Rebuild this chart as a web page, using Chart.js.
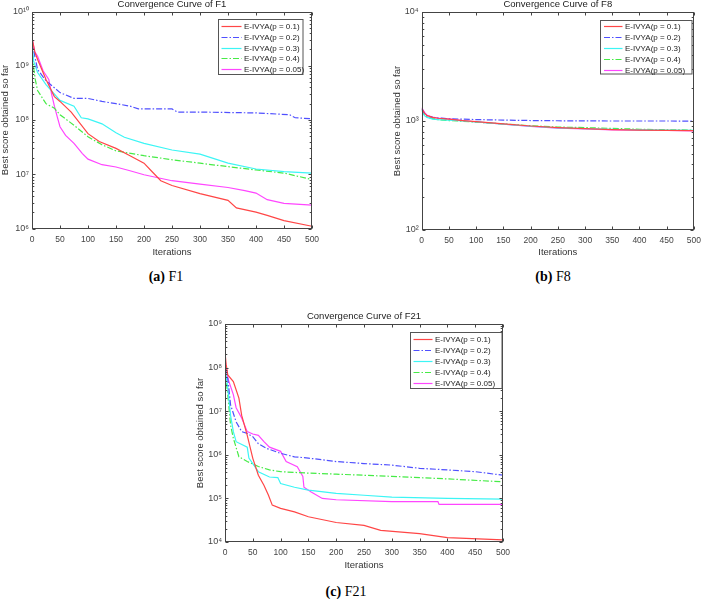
<!DOCTYPE html>
<html>
<head>
<meta charset="utf-8">
<script src="https://cdn.jsdelivr.net/npm/chart.js"></script>
<style>
  body { margin: 0; background: #fff; width: 707px; height: 599px; position: relative; overflow: hidden; }
  canvas { position: absolute; }
  .cap { position: absolute; font-family: "Liberation Serif", "Times New Roman", serif; font-size: 14px; line-height: 16px; color: #000; transform: translateX(-50%); white-space: nowrap; }
</style>
</head>
<body>
<canvas id="cF1" width="353" height="262" style="left:0px;top:0px"></canvas>
<canvas id="cF8" width="317" height="262" style="left:390px;top:0px"></canvas>
<canvas id="cF21" width="353" height="262" style="left:193px;top:312px"></canvas>
<div class="cap" style="left:166px;top:269px"><b>(a)</b> F1</div>
<div class="cap" style="left:553px;top:269px"><b>(b)</b> F8</div>
<div class="cap" style="left:346px;top:584px"><b>(c)</b> F21</div>

<script>
    const seriesNames = ['E-IVYA(p = 0.1)', 'E-IVYA(p = 0.2)', 'E-IVYA(p = 0.3)', 'E-IVYA(p = 0.4)', 'E-IVYA(p = 0.05)'];
    const xTicks = [0, 50, 100, 150, 200, 250, 300, 350, 400, 450, 500];

    // F1
    const f1Ticks = [1e6, 1e7, 1e8, 1e9, 1e10];
    const f1ItP01 = [0, 5, 10, 25, 40, 50, 70, 100, 120, 150, 175, 200, 215, 230, 250, 300, 350, 365, 400, 420, 450, 500];
    const f1P01 = [3.3e9, 1.8e9, 1.3e9, 5.6e8, 2.7e8, 2.2e8, 1.4e8, 5.6e7, 4e7, 3e7, 2.2e7, 1.6e7, 1.1e7, 7.6e6, 6.2e6, 4.4e6, 3.3e6, 2.4e6, 2e6, 1.75e6, 1.4e6, 1.1e6];
    const f1ItP02 = [0, 5, 10, 25, 50, 75, 100, 125, 150, 175, 190, 250, 260, 300, 400, 460, 470, 500];
    const f1P02 = [3e9, 1.5e9, 8.5e8, 5.3e8, 3.2e8, 2.5e8, 2.5e8, 2.2e8, 2e8, 1.8e8, 1.6e8, 1.6e8, 1.4e8, 1.4e8, 1.35e8, 1.25e8, 1.1e8, 1.05e8];
    const f1ItP03 = [0, 3, 10, 25, 50, 75, 88, 100, 125, 150, 165, 200, 250, 300, 350, 400, 450, 500];
    const f1P03 = [2.5e9, 1.2e9, 7.5e8, 4.5e8, 2.3e8, 1.8e8, 1.1e8, 1.05e8, 8.5e7, 5.8e7, 4.8e7, 3.7e7, 2.8e7, 2.35e7, 1.6e7, 1.25e7, 1.12e7, 1.05e7];
    const f1ItP04 = [0, 3, 6, 10, 25, 40, 50, 75, 100, 125, 150, 200, 250, 300, 350, 400, 450, 500];
    const f1P04 = [2.5e9, 9e8, 5.5e8, 3.5e8, 2e8, 1.65e8, 1.25e8, 8e7, 4.9e7, 3.5e7, 2.7e7, 2.2e7, 1.85e7, 1.6e7, 1.38e7, 1.2e7, 1.05e7, 8e6];
    const f1ItP005 = [0, 5, 10, 20, 30, 35, 40, 45, 50, 60, 75, 90, 100, 125, 150, 175, 200, 250, 300, 350, 380, 400, 420, 450, 500];
    const f1P005 = [3.2e9, 1.8e9, 1.5e9, 8e8, 5.6e8, 3e8, 1.8e8, 1.15e8, 7.5e7, 5.2e7, 3.7e7, 2.4e7, 1.9e7, 1.5e7, 1.36e7, 1.16e7, 9.8e6, 7.6e6, 6.6e6, 5.7e6, 5e6, 4.5e6, 3.4e6, 2.9e6, 2.7e6];

    // F8
    const f8Ticks = [1e2, 1e3, 1e4];
    const f8It = [0, 5, 10, 20, 30, 50, 75, 100, 150, 200, 250, 300, 350, 400, 450, 500];
    const f8P01 = [1300, 1180, 1120, 1080, 1060, 1040, 1010, 985, 940, 900, 870, 850, 835, 825, 820, 815];
    const f8P02 = [1300, 1180, 1120, 1080, 1065, 1050, 1040, 1030, 1020, 1010, 1005, 1002, 1000, 1000, 1000, 998];
    const f8P03 = [1250, 1120, 1080, 1040, 1030, 1020, 1000, 980, 935, 895, 865, 850, 840, 830, 825, 820];
    const f8P04 = [1270, 1140, 1090, 1050, 1030, 1010, 995, 975, 940, 905, 880, 870, 855, 840, 832, 825];
    const f8P005 = [1330, 1200, 1130, 1085, 1065, 1045, 1010, 980, 935, 890, 860, 845, 830, 825, 818, 812];

    // F21
    const f21Ticks = [1e4, 1e5, 1e6, 1e7, 1e8, 1e9];
    const f21ItP01 = [0, 2, 5, 15, 25, 30, 40, 50, 60, 70, 78, 85, 100, 125, 150, 200, 250, 280, 350, 400, 500];
    const f21P01 = [2.3e8, 1.2e8, 6.8e7, 4.8e7, 2e7, 8e6, 2.8e6, 8.3e5, 3.4e5, 2e5, 1.2e5, 7e4, 5.9e4, 4.9e4, 3.8e4, 2.8e4, 2.4e4, 1.85e4, 1.55e4, 1.26e4, 1.12e4];
    const f21ItP02 = [0, 5, 10, 20, 30, 40, 50, 60, 75, 100, 125, 150, 200, 250, 300, 350, 400, 450, 500];
    const f21P02 = [1.1e8, 5.7e7, 1.4e7, 5.7e6, 3.4e6, 3.1e6, 2.6e6, 1.8e6, 1.4e6, 1.08e6, 9e5, 8.4e5, 7e5, 6.3e5, 5.8e5, 4.9e5, 4.5e5, 4.1e5, 3.4e5];
    const f21ItP03 = [0, 5, 10, 15, 20, 40, 43, 60, 80, 95, 100, 125, 150, 200, 250, 300, 400, 500];
    const f21P03 = [1e8, 3.4e7, 8e6, 3.4e6, 2e6, 1.5e6, 8.4e5, 4.1e5, 3.1e5, 3e5, 2.2e5, 1.8e5, 1.55e5, 1.3e5, 1.18e5, 1.07e5, 1e5, 9.6e4];
    const f21ItP04 = [0, 5, 10, 15, 25, 40, 60, 80, 100, 150, 200, 300, 400, 500];
    const f21P04 = [8e7, 2.4e7, 4.8e6, 2.4e6, 9e5, 7e5, 5.4e5, 4.5e5, 4.1e5, 3.8e5, 3.6e5, 3.2e5, 2.8e5, 2.4e5];
    const f21ItP005 = [0, 5, 15, 20, 30, 40, 50, 60, 70, 80, 100, 110, 130, 140, 142, 155, 175, 200, 300, 383, 385, 500];
    const f21P005 = [1.5e8, 5.7e7, 2.4e7, 1.2e7, 7e6, 3.4e6, 3e6, 2.8e6, 2e6, 1.5e6, 1.2e6, 7e5, 5.3e5, 3.2e5, 1.8e5, 1.4e5, 1e5, 9.3e4, 8.4e4, 8.4e4, 7.3e4, 7.3e4];

    const FONT = '"Liberation Sans", Arial, Helvetica, sans-serif';
    Chart.defaults.font.family = FONT;

    const lineStyles = [
        { color: 'rgb(255,70,70)', dash: [] },
        { color: 'rgb(80,80,255)', dash: [6, 2, 1.5, 2] },
        { color: 'rgb(60,245,245)', dash: [] },
        { color: 'rgb(70,235,70)', dash: [6, 2, 1.5, 2] },
        { color: 'rgb(255,70,255)', dash: [] }
    ];

    const supDigits = { '0': '\u2070', '1': '\u00b9', '2': '\u00b2', '3': '\u00b3', '4': '\u2074', '5': '\u2075', '6': '\u2076', '7': '\u2077', '8': '\u2078', '9': '\u2079' };
    function powLabel(v) {
        const e = Math.round(Math.log10(v));
        return '10' + String(e).split('').map(c => supDigits[c]).join('');
    }

    // matlab style box, inward ticks and a boxed legend
    const frame = {
        id: 'frame',
        afterDatasetsDraw(chart, args, opts) {
            const { ctx, chartArea: a, scales: { x, y } } = chart;
            ctx.save();
            ctx.strokeStyle = '#444';
            ctx.lineWidth = 1;
            ctx.setLineDash([]);
            const L = Math.round(a.left) + 0.5, R = Math.round(a.right) - 0.5;
            const T = Math.round(a.top) + 0.5, B = Math.round(a.bottom) - 0.5;
            ctx.strokeRect(L, T, R - L, B - T);
            ctx.beginPath();
            x.ticks.forEach(t => {
                const px = Math.round(x.getPixelForValue(t.value)) + 0.5;
                ctx.moveTo(px, B); ctx.lineTo(px, B - 3);
                ctx.moveTo(px, T); ctx.lineTo(px, T + 3);
            });
            y.ticks.forEach(t => {
                for (let k = 1; k < 10; k++) {
                    const v = t.value * k;
                    if (v > y.max * 1.0001) break;
                    const py = Math.round(y.getPixelForValue(v)) + 0.5;
                    const len = k === 1 ? 3 : 1.8;
                    ctx.moveTo(L, py); ctx.lineTo(L + len, py);
                    ctx.moveTo(R, py); ctx.lineTo(R - len, py);
                }
            });
            ctx.stroke();

            const lg = opts.legend;
            const bx = Math.round(a.right - lg.right - lg.width) + 0.5;
            const by = Math.round(a.top + lg.top) + 0.5;
            ctx.fillStyle = '#fff';
            ctx.fillRect(bx, by, lg.width, lg.height);
            ctx.strokeStyle = '#555';
            ctx.strokeRect(bx, by, lg.width, lg.height);
            ctx.font = '8px ' + FONT;
            ctx.textBaseline = 'middle';
            ctx.textAlign = 'left';
            chart.data.datasets.forEach((ds, i) => {
                const ry = Math.round(by + lg.first + i * lg.row) + 0.5;
                ctx.strokeStyle = ds.borderColor;
                ctx.lineWidth = 1.2;
                ctx.setLineDash(ds.borderDash);
                ctx.beginPath();
                ctx.moveTo(bx + lg.pad, ry);
                ctx.lineTo(bx + lg.pad + lg.line, ry);
                ctx.stroke();
                ctx.setLineDash([]);
                ctx.fillStyle = '#222';
                ctx.fillText(ds.label, bx + lg.pad + lg.line + 2.5, ry);
            });
            ctx.restore();
        }
    };

    function makeChart(id, title, yTicks, series, geo) {
        return new Chart(document.getElementById(id), {
            type: 'line',
            data: {
                datasets: series.map((s, i) => ({
                    label: seriesNames[i],
                    data: s[0].map((it, j) => ({ x: it, y: s[1][j] })),
                    borderColor: lineStyles[i].color,
                    borderDash: lineStyles[i].dash,
                    borderWidth: 1.2,
                    pointRadius: 0,
                    fill: false,
                    tension: 0
                }))
            },
            options: {
                responsive: false,
                animation: false,
                layout: { padding: { left: 0, right: geo.padRight, top: 0, bottom: 0 } },
                plugins: {
                    legend: { display: false },
                    tooltip: { enabled: false },
                    title: {
                        display: true, text: title, fullSize: false, color: '#222',
                        font: { size: 9.5, weight: 'normal', lineHeight: 1 },
                        padding: { top: 0, bottom: geo.titlePad }
                    },
                    frame: { legend: geo.legend }
                },
                scales: {
                    x: {
                        type: 'linear', min: 0, max: 500,
                        afterBuildTicks: s => { s.ticks = xTicks.map(v => ({ value: v })); },
                        afterFit: s => { s.height = geo.xH; },
                        grid: { display: false, drawTicks: false },
                        border: { display: false },
                        ticks: { padding: 6, color: '#444', font: { size: 8.5 }, maxRotation: 0, autoSkip: false },
                        title: { display: true, text: 'Iterations', color: '#333', font: { size: 9.5 }, padding: { top: 0, bottom: geo.xTitlePad } }
                    },
                    y: {
                        type: 'logarithmic', min: yTicks[0], max: yTicks[yTicks.length - 1],
                        afterBuildTicks: s => { s.ticks = yTicks.map(v => ({ value: v })); },
                        afterFit: s => { s.width = geo.yW; },
                        grid: { display: false, drawTicks: false },
                        border: { display: false },
                        ticks: { padding: 3, color: '#444', font: { size: 9 }, autoSkip: false, callback: v => powLabel(v) },
                        title: { display: true, text: 'Best score obtained so far', color: '#333', font: { size: 9.5 }, padding: { top: geo.yTitlePad, bottom: 0 } }
                    }
                }
            },
            plugins: [frame]
        });
    }

    makeChart('cF1', 'Convergence Curve of F1', f1Ticks,
        [[f1ItP01, f1P01], [f1ItP02, f1P02], [f1ItP03, f1P03], [f1ItP04, f1P04], [f1ItP005, f1P005]],
        { padRight: 41, titlePad: 2, xH: 33.5, yW: 32, xTitlePad: 4.3, yTitlePad: 0,
          legend: { right: 9.3, top: 7.5, width: 84.5, height: 55, pad: 3, line: 20, first: 6.5, row: 10.8 } });

    makeChart('cF8', 'Convergence Curve of F8', f8Ticks,
        [[f8It, f8P01], [f8It, f8P02], [f8It, f8P03], [f8It, f8P04], [f8It, f8P005]],
        { padRight: 7, titlePad: 2.5, xH: 32, yW: 31.7, xTitlePad: 4.3, yTitlePad: 1.4,
          legend: { right: 2, top: 8, width: 91.5, height: 53.5, pad: 3.5, line: 18.5, first: 5.5, row: 11 } });

    makeChart('cF21', 'Convergence Curve of F21', f21Ticks,
        [[f21ItP01, f21P01], [f21ItP02, f21P02], [f21ItP03, f21P03], [f21ItP04, f21P04], [f21ItP005, f21P005]],
        { padRight: 43, titlePad: 2.5, xH: 32, yW: 32, xTitlePad: 2.6, yTitlePad: 1.4,
          legend: { right: 1.3, top: 8, width: 91.5, height: 56, pad: 3, line: 19, first: 6.5, row: 11 } });
</script>
</body>
</html>
